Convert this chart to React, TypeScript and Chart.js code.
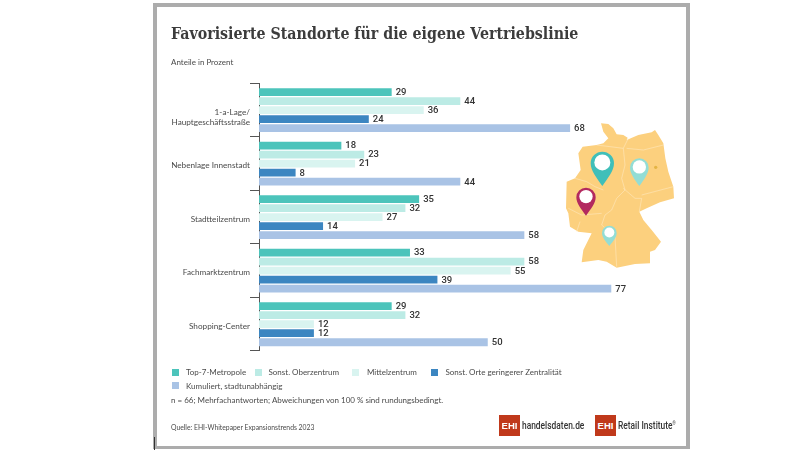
import React, { useEffect, useRef } from "react";
import { Chart, registerables } from "chart.js";

Chart.register(...registerables);

const titleText = "Favorisierte Standorte für die eigene Vertriebslinie";
const subtitleText = "Anteile in Prozent";
const categories = [["", "1-a-Lage/", "Hauptgeschäftsstraße"], "Nebenlage Innenstadt", "Stadtteilzentrum", "Fachmarktzentrum", "Shopping-Center"];
const seriesNames = ["Top-7-Metropole", "Sonst. Oberzentrum", "Mittelzentrum", "Sonst. Orte geringerer Zentralität", "Kumuliert, stadtunabhängig"];
const seriesColors = ["#4cc4bb", "#bcebe5", "#d9f4f0", "#3c86c1", "#a9c3e5"];
const top7 = [29, 18, 35, 33, 29];
const oberzentrum = [44, 23, 32, 58, 32];
const mittelzentrum = [36, 21, 27, 55, 12];
const sonstOrte = [24, 8, 14, 39, 12];
const kumuliert = [68, 44, 58, 77, 50];
const seriesValues = [top7, oberzentrum, mittelzentrum, sonstOrte, kumuliert];
const footnote = "n = 66; Mehrfachantworten; Abweichungen von 100 % sind rundungsbedingt.";
const source = "Quelle: EHI-Whitepaper Expansionstrends 2023";

const BODY = "Lato, sans-serif";
const TEXT = "#4a4a4a";

const valueLabels = {
  id: "valueLabels",
  afterDatasetsDraw(chart: any) {
    const { ctx } = chart;
    ctx.save();
    ctx.font = `500 9.5px Roboto, sans-serif`;
    ctx.fillStyle = "#333333";
    ctx.textAlign = "left";
    ctx.textBaseline = "middle";
    chart.data.datasets.forEach((ds: any, i: number) => {
      chart.getDatasetMeta(i).data.forEach((bar: any, j: number) => {
        ctx.fillText(String(ds.data[j]), bar.x + 4, bar.y + 0.5);
      });
    });
    ctx.restore();
  },
};

function pin(cx: number, cy: number, r: number, tip: number, ir: number, color: string) {
  const d = `M${cx},${tip} C${cx - r * 0.5},${tip - (tip - cy) * 0.35} ${cx - r},${cy + r * 0.6} ${cx - r},${cy} A${r},${r} 0 1 1 ${cx + r},${cy} C${cx + r},${cy + r * 0.6} ${cx + r * 0.5},${tip - (tip - cy) * 0.35} ${cx},${tip} Z`;
  return (
    <g key={`${cx}-${cy}`}>
      <path d={d} fill={color} />
      <circle cx={cx} cy={cy - r * 0.08} r={ir} fill="#ffffff" />
    </g>
  );
}

const germany =
  "M123,25 L145,27 L160,40 L170,58 L190,60 L203,68 L200,75 L235,60 L275,52 L285,45 L295,60 L310,85 L316,130 L325,170 L340,215 L342,250 L300,262 L260,280 L238,290 L250,315 L275,345 L303,380 L285,405 L270,410 L270,445 L225,447 L170,458 L140,440 L115,435 L65,442 L70,405 L95,355 L55,350 L30,335 L25,295 L18,280 L20,200 L45,190 L62,165 L55,115 L68,95 L110,90 L130,85 L145,70 L130,50 Z";
const borders = [
  "M110,90 L150,95 L190,100 L205,70",
  "M200,100 L250,105 L310,90",
  "M190,100 L195,150 L185,190 L195,225 L170,250 L155,285 L135,300 L125,330",
  "M45,190 L80,200 L105,215 L130,225",
  "M190,220 L225,250 L245,250 L238,290",
  "M245,240 L340,215",
  "M25,280 L65,300 L125,295",
  "M50,350 L60,320",
  "M125,330 L165,365 L170,455",
];

export default function App() {
  const ref = useRef<HTMLCanvasElement | null>(null);

  useEffect(() => {
    if (!ref.current) return;
    const chart = new Chart(ref.current, {
      type: "bar",
      data: {
        labels: categories as any,
        datasets: seriesNames.map((name, i) => ({
          label: name,
          data: seriesValues[i],
          backgroundColor: seriesColors[i],
          categoryPercentage: 0.844,
          barPercentage: 0.867,
        })),
      },
      plugins: [valueLabels],
      options: {
        indexAxis: "y",
        animation: false,
        responsive: false,
        layout: { padding: { top: 0, right: 90.5, bottom: 103.1, left: 0 } },
        plugins: {
          legend: { display: false },
          tooltip: { enabled: false },
          title: {
            display: true,
            text: titleText,
            align: "start",
            color: "#3c3c3c",
            font: { family: "'DejaVu Serif Condensed', 'DejaVu Serif', serif", size: 15.8, weight: "bold" },
            padding: { top: 25, bottom: 13.2 },
          },
          subtitle: {
            display: true,
            text: subtitleText,
            align: "start",
            color: TEXT,
            font: { family: BODY, size: 8 },
            padding: { top: 0, bottom: 16.6 },
          },
        },
        scales: {
          x: { display: false, min: 0, max: 100 },
          y: {
            afterFit(scale: any) {
              scale.width = 88;
            },
            border: { display: true, color: "#555555", width: 1 },
            grid: { drawOnChartArea: false, drawTicks: true, tickLength: 9, color: "#555555" },
            ticks: {
              padding: 0,
              labelOffset: 2,
              color: TEXT,
              font: { family: BODY, size: 8.2 },
            },
          },
        },
      },
    } as any);
    return () => chart.destroy();
  }, []);

  const legendBoxes = [
    [171.5, 372],
    [255, 372],
    [352, 372],
    [431, 372],
    [171.5, 385.5],
  ];
  const legendText = [186, 268.5, 367, 445.5, 186];

  const abs = (left: number, top: number, extra: React.CSSProperties = {}): React.CSSProperties => ({
    position: "absolute",
    left,
    top,
    whiteSpace: "nowrap",
    fontFamily: BODY,
    ...extra,
  });

  const logo = (x: number, label: string, sup: boolean) => (
    <>
      <div style={abs(x, 415, { width: 21, height: 21, background: "#c0391b", color: "#fff", fontWeight: 700, fontSize: 9.5, lineHeight: "22px", textAlign: "center", fontFamily: "'Liberation Sans', sans-serif" })}>EHI</div>
      <div style={abs(x + 23, 417, { fontSize: 10.5, fontWeight: 500, color: "#333", lineHeight: "17px", fontFamily: "Roboto, sans-serif", transform: "scaleX(0.8)", transformOrigin: "left center" })}>
        {label}
        {sup ? <sup style={{ fontSize: 5, lineHeight: 0 }}>®</sup> : null}
      </div>
    </>
  );

  return (
    <div style={{ position: "fixed", left: 0, top: 0, width: 807, height: 454, background: "#fff", overflow: "hidden", filter: "blur(0.3px)" }}>
      <div style={{ position: "absolute", left: 153, top: 3, width: 537, height: 446, boxSizing: "border-box", border: "4px solid #acacac", borderBottomWidth: 3 }} />
      <div style={{ position: "absolute", left: 153.5, top: 437, width: 1, height: 13, background: "#333" }} />
      <canvas ref={ref} width={636} height={454} style={{ position: "absolute", left: 171, top: 0 }} />
      <svg viewBox="0 0 360 480" width={120} height={160} style={{ position: "absolute", left: 560, top: 115 }}>
        <path d={germany} fill="#fcd07e" />
        {borders.map((b) => (
          <path key={b} d={b} fill="none" stroke="#ffeccb" strokeWidth={1.5} />
        ))}
        <circle cx={287} cy={157} r={5} fill="#e4b445" />
        {pin(127, 145, 35, 213, 24, "#3fbfb9")}
        {pin(238, 158, 28, 213, 20, "#93ddd5")}
        {pin(78, 247, 29, 302, 20, "#b3295f")}
        {pin(148, 354, 22, 393, 15, "#93ddd5")}
      </svg>
      {seriesNames.map((name, i) => (
        <React.Fragment key={name}>
          <div style={{ position: "absolute", left: legendBoxes[i][0], top: legendBoxes[i][1] - 3.5, width: 7, height: 7, background: seriesColors[i] }} />
          <div style={abs(legendText[i], legendBoxes[i][1] - 7, { fontSize: 8, lineHeight: "14px", color: TEXT })}>{name}</div>
        </React.Fragment>
      ))}
      <div style={abs(171, 392.5, { fontSize: 8, lineHeight: "14px", color: TEXT })}>{footnote}</div>
      <div style={abs(171, 419.5, { fontSize: 6.8, lineHeight: "14px", color: TEXT })}>{source}</div>
      {logo(499, "handelsdaten.de", false)}
      {logo(595, "Retail Institute", true)}
    </div>
  );
}
